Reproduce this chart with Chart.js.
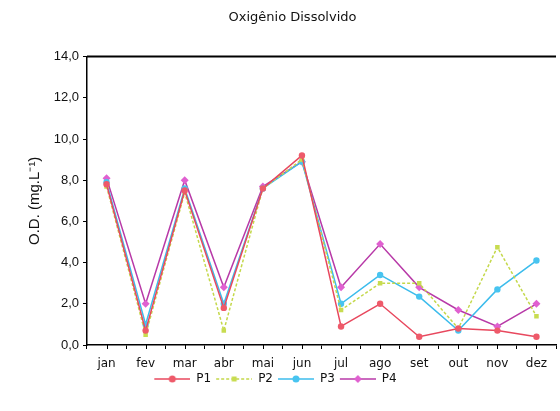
<!DOCTYPE html>
<html>
<head>
<meta charset="utf-8">
<script src="https://cdn.jsdelivr.net/npm/chart.js@4"></script>
<style>
  html, body { margin: 0; padding: 0; background: #fff; }
  #wrap { width: 560px; height: 411px; }
</style>
</head>
<body>
<div id="wrap"><canvas id="odChart"></canvas></div>
<script>
// meses e valores
const months = ["jan", "fev", "mar", "abr", "mai", "jun", "jul", "ago", "set", "out", "nov", "dez"];
const p1 = [7.8, 0.7, 7.5, 1.8, 7.6, 9.2, 0.9, 2.0, 0.4, 0.8, 0.7, 0.4];
const p2 = [7.7, 0.5, 7.4, 0.7, 7.6, 9.0, 1.7, 3.0, 3.0, 0.8, 4.75, 1.4];
const p3 = [7.9, 1.0, 7.6, 2.0, 7.6, 8.9, 2.0, 3.4, 2.35, 0.7, 2.7, 4.1];
const p4 = [8.1, 2.0, 8.0, 2.8, 7.7, 8.9, 2.8, 4.9, 2.8, 1.7, 0.9, 2.0];
const yTicks = [0, 2, 4, 6, 8, 10, 12, 14];

const FONT = "'Liberation Sans', Arial, sans-serif";
const ROUND = "'DejaVu Sans', sans-serif";

// ícone da legenda: espaço à esquerda + linha + marcador
function legendIcon(color, dash, marker, fill) {
  const c = document.createElement("canvas");
  c.width = 40; c.height = 10;
  const g = c.getContext("2d");
  g.strokeStyle = color;
  g.lineWidth = 1.5;
  g.setLineDash(dash);
  g.beginPath(); g.moveTo(4, 5); g.lineTo(40, 5); g.stroke();
  g.setLineDash([]);
  g.fillStyle = fill;
  g.beginPath();
  if (marker === "rectRot") {
    g.moveTo(22, 1); g.lineTo(26, 5); g.lineTo(22, 9); g.lineTo(18, 5); g.closePath();
  } else if (marker === "rect") {
    g.rect(19.5, 2.5, 5, 5);
  } else {
    g.arc(22, 5, 3.5, 0, Math.PI * 2);
  }
  g.fill();
  return c;
}

const series = [
  { label: "P1", data: p1, color: "#e8485e", fill: "#ee5a6a", dash: [], marker: "circle" },
  { label: "P2", data: p2, color: "#c4d84a", fill: "#c8dc50", dash: [3, 2], marker: "rect" },
  { label: "P3", data: p3, color: "#3cbcec", fill: "#48c4f0", dash: [], marker: "circle" },
  { label: "P4", data: p4, color: "#b83aa8", fill: "#e060d0", dash: [], marker: "rectRot" },
];

// traços do eixo x também no centro de cada categoria + borda superior
const framePlugin = {
  id: "frame",
  afterLayout(chart) {
    // legenda um pouco à esquerda, como no original
    if (chart.legend) {
      chart.legend.left -= 19;
      chart.legend.right -= 19;
    }
  },
  afterDraw(chart) {
    const { ctx, chartArea } = chart;
    const x = chart.scales.x;
    ctx.save();
    ctx.strokeStyle = "#000";
    ctx.lineWidth = 1;
    months.forEach(function (m, i) {
      const px = Math.round(x.getPixelForValue(i)) + 0.5;
      ctx.beginPath();
      ctx.moveTo(px, chartArea.bottom);
      ctx.lineTo(px, chartArea.bottom + 4);
      ctx.stroke();
    });
    ctx.lineWidth = 2;
    ctx.beginPath();
    ctx.moveTo(chartArea.left, chartArea.top);
    ctx.lineTo(chartArea.right, chartArea.top);
    ctx.stroke();
    ctx.restore();
  },
};

new Chart(document.getElementById("odChart"), {
  type: "line",
  data: {
    labels: months,
    datasets: series.map(function (s) {
      return {
        label: s.label,
        data: s.data,
        borderColor: s.color,
        backgroundColor: s.fill,
        borderWidth: 1.5,
        borderDash: s.dash,
        pointStyle: s.marker,
        pointRadius: s.marker === "rectRot" ? 4 : 3.2,
        pointBorderWidth: 0,
        pointBackgroundColor: s.fill,
        tension: 0,
      };
    }),
  },
  plugins: [framePlugin],
  options: {
    responsive: true,
    maintainAspectRatio: false,
    animation: false,
    layout: { padding: { left: 26, right: 1, top: 0, bottom: 16 } },
    scales: {
      x: {
        offset: true,
        afterFit: function (scale) { scale.height = 27; },
        grid: { display: true, offset: true, drawOnChartArea: false, tickLength: 4, color: "#000" },
        border: { color: "#000", width: 1.5 },
        ticks: { color: "#111", font: { family: ROUND, size: 12 }, padding: 8, maxRotation: 0 },
      },
      y: {
        min: 0,
        max: 14,
        afterBuildTicks: function (scale) {
          scale.ticks = yTicks.map(function (v) { return { value: v }; });
        },
        afterFit: function (scale) { scale.width = 61; },
        grid: { display: true, drawOnChartArea: false, tickLength: 4, color: "#000" },
        border: { color: "#000", width: 1.5 },
        ticks: {
          color: "#111",
          font: { family: FONT, size: 13 },
          padding: 4,
          callback: function (v) { return v.toFixed(1).replace(".", ","); },
        },
        title: {
          display: true,
          text: "O.D. (mg.L⁻¹)",
          color: "#111",
          font: { family: FONT, size: 15 },
          padding: 0,
        },
      },
    },
    plugins: {
      title: {
        display: true,
        text: "Oxigênio Dissolvido",
        color: "#111",
        font: { family: ROUND, size: 13, weight: "normal" },
        padding: { top: 10, bottom: 31 },
      },
      legend: {
        position: "bottom",
        labels: {
          usePointStyle: true,
          pointStyleWidth: 40,
          color: "#111",
          font: { family: ROUND, size: 12 },
          padding: 1,
          generateLabels: function () {
            return series.map(function (s, i) {
              return {
                text: s.label,
                datasetIndex: i,
                pointStyle: legendIcon(s.color, s.dash, s.marker, s.fill),
                fontColor: "#111",
                lineWidth: 0,
              };
            });
          },
        },
      },
      tooltip: { enabled: false },
    },
  },
});
</script>
</body>
</html>
